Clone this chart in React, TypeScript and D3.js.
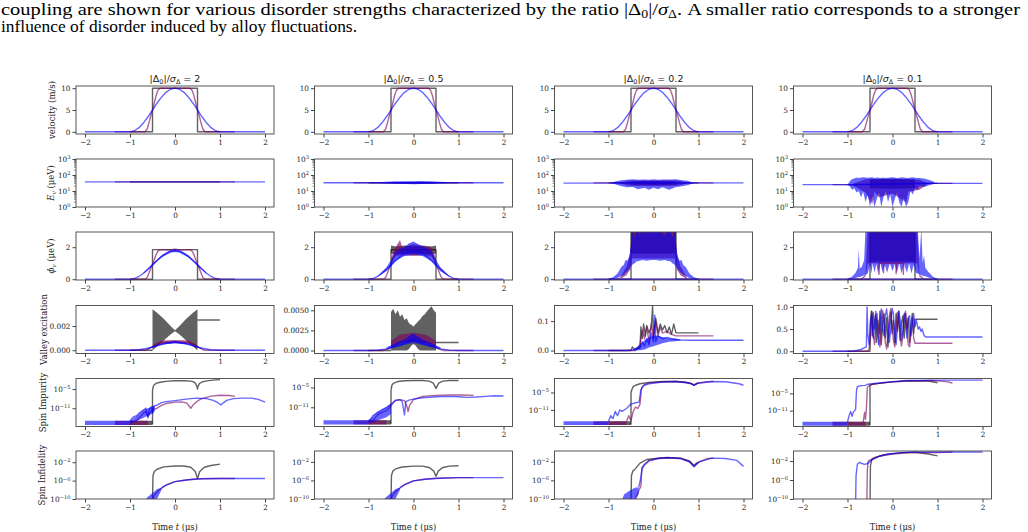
import * as d3 from "d3"
import { useEffect, useRef } from "react"

type Pt = [number, number]
type Bd = [number, number, number] // t, low, high
type Trace = { c: "g" | "p" | "b"; line?: Pt[]; band?: Bd[] }

const W = 1028
const H = 532

const ratios = ["2", "0.5", "0.2", "0.1"]
const timeTicks = [-2, -1, 0, 1, 2]

// ---- velocity profile (same in every column)
const velG: Pt[] = [[-1, 0], [-0.5, 0], [-0.5, 10], [0.5, 10], [0.5, 0], [1, 0]]
const velP: Pt[] = [[-1.333, 0], [-0.67, 0], [-0.62, 0.6], [-0.58, 2], [-0.54, 3.6], [-0.5, 5], [-0.46, 6.6], [-0.42, 8.3], [-0.38, 9.5], [-0.33, 10], [0.33, 10], [0.38, 9.5], [0.42, 8.3], [0.46, 6.6], [0.5, 5], [0.54, 3.6], [0.58, 2], [0.62, 0.6], [0.67, 0], [1.333, 0]]
const velB: Pt[] = [[-2, 0], [-1, 0], [-0.9, 0.24], [-0.8, 0.95], [-0.7, 2.06], [-0.6, 3.45], [-0.5, 5], [-0.4, 6.55], [-0.3, 7.94], [-0.2, 9.05], [-0.1, 9.76], [0, 10], [0.1, 9.76], [0.2, 9.05], [0.3, 7.94], [0.4, 6.55], [0.5, 5], [0.6, 3.45], [0.7, 2.06], [0.8, 0.95], [0.9, 0.24], [1, 0], [2, 0]]

// ---- valley splitting E_v (ueV)
const evG1: Pt[] = [[-1, 37], [1, 37]]
const evP1: Pt[] = [[-1.333, 37], [1.333, 37]]
const evB1: Pt[] = [[-2, 37], [2, 37]]
const evG2: Pt[] = [[-1, 33], [1, 33]]
const evG2Band: Bd[] = [[-0.5, 31, 35], [0, 30, 36], [0.5, 31, 35]]
const evP2: Pt[] = [[-1.333, 33], [1.333, 33]]
const evP2Band: Bd[] = [[-0.6, 32, 34], [-0.3, 29, 37], [0, 28, 38], [0.3, 29, 37], [0.6, 32, 34]]
const evB2: Pt[] = [[-2, 33], [2, 33]]
const evB2Band: Bd[] = [[-0.85, 33, 33], [-0.7, 30, 37], [-0.4, 28, 40], [-0.15, 27, 41], [0, 26, 40], [0.15, 27, 42], [0.4, 28, 40], [0.7, 30, 37], [0.85, 33, 33]]
const evG3: Pt[] = [[-1, 32], [1, 32]]
const evG3Band: Bd[] = [[-0.5, 25, 40], [0, 24, 42], [0.5, 25, 40]]
const evP3: Pt[] = [[-1.333, 32], [1.333, 32]]
const evP3Band: Bd[] = [[-0.75, 31, 33], [-0.55, 21, 45], [0, 20, 46], [0.55, 21, 45], [0.75, 31, 33]]
const evB3: Pt[] = [[-2, 31], [2, 32]]
const evB3Band: Bd[] = [[-0.95, 31, 33], [-0.85, 26, 39], [-0.75, 21, 46], [-0.6, 17, 50], [-0.45, 18, 54], [-0.35, 13, 50], [-0.2, 16, 53], [-0.1, 12, 51], [0, 16, 55], [0.1, 13, 50], [0.2, 17, 53], [0.35, 12, 52], [0.5, 18, 54], [0.6, 19, 48], [0.75, 23, 43], [0.9, 31, 33]]
const evG4: Pt[] = [[-1, 25], [-0.5, 25], [0.5, 30], [1, 30]]
const evG4Band: Bd[] = [[-0.5, 15, 55], [0, 14, 56], [0.5, 15, 55]]
const evP4: Pt[] = [[-1.333, 25], [-0.9, 25], [0.8, 30], [1.333, 30]]
const evP4Band: Bd[] = [[-0.9, 24, 27], [-0.6, 8, 55], [-0.45, 1.5, 58], [-0.4, 9, 55], [-0.3, 4, 56], [0, 7, 58], [0.3, 2, 55], [0.35, 9, 54], [0.6, 12, 50], [0.8, 29, 31]]
const evB4: Pt[] = [[-2, 25], [-1, 25], [0.95, 30], [2, 30]]
const evB4Band: Bd[] = [[-1, 25, 25], [-0.95, 20, 40], [-0.9, 12, 55], [-0.85, 15, 60], [-0.8, 8, 70], [-0.75, 10, 65], [-0.7, 4, 70], [-0.65, 9, 72], [-0.6, 2, 70], [-0.55, 6, 68], [-0.5, 1, 70], [-0.45, 5, 72], [-0.4, 1, 65], [-0.35, 3, 70], [-0.3, 8, 68], [-0.25, 1, 66], [-0.2, 4, 70], [-0.15, 10, 65], [-0.1, 2, 68], [-0.05, 6, 70], [0, 1, 72], [0.05, 3, 70], [0.1, 8, 66], [0.15, 2, 68], [0.2, 1, 72], [0.25, 4, 70], [0.3, 1, 68], [0.35, 2, 65], [0.4, 10, 70], [0.45, 6, 72], [0.5, 15, 68], [0.55, 12, 65], [0.6, 20, 66], [0.7, 18, 60], [0.8, 22, 50], [0.9, 26, 40], [0.95, 30, 30]]

// ---- phase rate (ueV)
const phiG1: Pt[] = [[-1, 0], [-0.5, 0], [-0.5, 1.85], [0.5, 1.85], [0.5, 0], [1, 0]]
const phiP1: Pt[] = [[-1.333, 0], [-0.67, 0], [-0.62, 0.11], [-0.58, 0.37], [-0.54, 0.67], [-0.5, 0.93], [-0.46, 1.22], [-0.42, 1.54], [-0.38, 1.76], [-0.33, 1.85], [-0.15, 1.82], [0, 1.88], [0.15, 1.82], [0.33, 1.85], [0.38, 1.76], [0.42, 1.54], [0.46, 1.22], [0.5, 0.93], [0.54, 0.67], [0.58, 0.37], [0.62, 0.11], [0.67, 0], [1.333, 0]]
const phiB1: Pt[] = [[-2, 0], [-1, 0], [-0.9, 0.04], [-0.8, 0.17], [-0.7, 0.37], [-0.6, 0.62], [-0.5, 0.89], [-0.4, 1.17], [-0.3, 1.41], [-0.2, 1.61], [-0.1, 1.74], [0, 1.78], [0.1, 1.74], [0.2, 1.61], [0.3, 1.41], [0.4, 1.17], [0.5, 0.89], [0.6, 0.62], [0.7, 0.37], [0.8, 0.17], [0.9, 0.04], [1, 0], [2, 0]]
const phiB1Band: Bd[] = [[-0.7, 0.34, 0.42], [-0.5, 0.84, 0.96], [-0.3, 1.35, 1.5], [-0.1, 1.66, 1.82], [0, 1.7, 1.86], [0.1, 1.66, 1.82], [0.3, 1.35, 1.5], [0.5, 0.84, 0.96], [0.7, 0.34, 0.42]]
const phiG2: Pt[] = [[-1, 0], [-0.5, 0], [-0.5, 1.85], [0.5, 1.85], [0.5, 0], [1, 0]]
const phiG2Band: Bd[] = [[-0.5, 1.6, 2.1], [-0.4, 1.55, 2.05], [-0.2, 1.6, 2.1], [0, 1.55, 2.05], [0.2, 1.6, 2.1], [0.4, 1.55, 2.05], [0.5, 1.6, 2.1]]
const phiP2Band: Bd[] = [[-0.5, 1.0, 1.3], [-0.4, 1.4, 2.0], [-0.3, 1.5, 2.45], [-0.25, 1.5, 2.0], [0, 1.45, 2.2], [0.25, 1.5, 2.05], [0.4, 1.4, 2.0], [0.5, 1.0, 1.3]]
const phiB2Band: Bd[] = [[-0.8, 0.15, 0.2], [-0.6, 0.5, 0.75], [-0.5, 0.8, 1.2], [-0.4, 1.1, 1.7], [-0.3, 1.3, 1.9], [-0.2, 1.45, 2.0], [-0.1, 1.5, 2.25], [0, 1.55, 2.35], [0.1, 1.5, 2.2], [0.2, 1.45, 2.05], [0.3, 1.3, 1.95], [0.4, 1.1, 1.75], [0.5, 0.8, 1.2], [0.6, 0.5, 0.75], [0.8, 0.15, 0.2]]
const phiG3: Pt[] = [[-1, 0], [-0.5, 0], [-0.5, 3.2], [0.5, 3.2], [0.5, 0], [1, 0]]
const phiG3Band: Bd[] = [[-0.5, 1.6, 3.2], [0.5, 1.6, 3.2]]
const phiP3: Pt[] = [[-1.333, 0], [-0.75, 0], [0.75, 0], [1.333, 0]]
const phiP3Band: Bd[] = [[-0.75, 0, 0.05], [-0.6, 0.25, 0.8], [-0.52, 0.6, 1.6], [-0.48, 1.3, 3.2], [0.48, 1.3, 3.2], [0.52, 0.6, 1.6], [0.6, 0.25, 0.8], [0.75, 0, 0.05]]
const phiB3: Pt[] = [[-2, 0], [-1, 0], [1, 0], [2, 0]]
const phiB3Band: Bd[] = [[-1, 0, 0.03], [-0.9, 0.02, 0.12], [-0.8, 0.08, 0.35], [-0.72, 0.18, 0.75], [-0.66, 0.28, 0.9], [-0.62, 0.38, 1.2], [-0.58, 0.5, 1.15], [-0.54, 0.62, 1.4], [-0.5, 0.8, 2.1], [-0.47, 0.9, 3.2], [-0.42, 1.0, 2.6], [-0.38, 1.1, 3.2], [-0.3, 1.15, 2.8], [-0.25, 1.2, 3.2], [-0.15, 1.15, 3.2], [-0.05, 1.2, 2.9], [0.05, 1.2, 3.2], [0.15, 1.15, 3.2], [0.25, 1.2, 2.7], [0.3, 1.15, 3.2], [0.38, 1.1, 3.2], [0.42, 1.0, 2.6], [0.47, 0.9, 3.2], [0.5, 0.8, 2.1], [0.54, 0.62, 1.4], [0.58, 0.5, 1.15], [0.62, 0.38, 1.2], [0.66, 0.28, 0.9], [0.72, 0.18, 0.75], [0.8, 0.08, 0.35], [0.9, 0.02, 0.12], [1, 0, 0.03]]
const phiG4: Pt[] = [[-1, 0], [-0.5, 0], [-0.5, 3.2], [0.5, 3.2], [0.5, 0], [1, 0]]
const phiG4Band: Bd[] = [[-0.5, 1.1, 3.2], [0.5, 1.1, 3.2]]
const phiP4: Pt[] = [[-1.333, 0], [-0.7, 0], [0.7, 0], [1.333, 0]]
const phiP4Band: Bd[] = [[-0.7, 0, 0.05], [-0.6, 0.15, 0.3], [-0.55, 1.0, 3.2], [0.55, 1.0, 3.2], [0.6, 0.15, 0.3], [0.7, 0, 0.05]]
const phiP4Spikes: Pt[] = [[-0.3, 1.0], [-0.3, 0.3], [-0.29, 1.0], [-0.2, 1.0], [-0.2, 0.4], [-0.19, 1.0], [0.08, 1.0], [0.08, 0.35], [0.09, 1.0], [0.24, 1.0], [0.24, 0.3], [0.25, 1.0]]
const phiB4: Pt[] = [[-2, 0], [-1, 0], [1, 0], [2, 0]]
const phiB4Band: Bd[] = [[-1, 0, 0.03], [-0.9, 0.03, 0.15], [-0.82, 0.08, 0.4], [-0.77, 0.12, 0.7], [-0.75, 0.13, 1.9], [-0.73, 0.14, 0.65], [-0.68, 0.18, 0.8], [-0.63, 0.24, 1.2], [-0.6, 0.28, 3.2], [-0.55, 0.35, 3.2], [-0.5, 0.9, 3.2], [-0.47, 0.35, 3.2], [-0.44, 1.0, 3.2], [-0.4, 0.4, 3.2], [-0.36, 0.95, 3.2], [-0.32, 0.35, 3.2], [-0.27, 1.0, 3.2], [-0.22, 0.45, 3.2], [-0.17, 0.9, 3.2], [-0.12, 0.4, 3.2], [-0.06, 1.0, 3.2], [0, 0.5, 3.2], [0.05, 0.95, 3.2], [0.1, 0.4, 3.2], [0.15, 1.0, 3.2], [0.2, 0.35, 3.2], [0.26, 0.95, 3.2], [0.32, 0.4, 3.2], [0.37, 1.0, 3.2], [0.42, 0.35, 3.2], [0.47, 0.9, 3.2], [0.52, 0.4, 3.2], [0.56, 0.35, 3.2], [0.6, 0.3, 1.3], [0.64, 0.25, 3.2], [0.67, 0.22, 1.0], [0.7, 0.2, 1.5], [0.73, 0.18, 0.7], [0.8, 0.1, 0.45], [0.9, 0.04, 0.15], [1, 0, 0.03]]

// ---- valley excitation
const vexG1a: Pt[] = [[-1, 0], [-0.5, 0]]
const vexG1b: Pt[] = [[0.5, 0.0025], [1, 0.0025]]
const vexG1Band: Bd[] = [[-0.5, 0, 0.0034], [-0.4, 0.0003, 0.0031], [-0.25, 0.0008, 0.0026], [-0.1, 0.0013, 0.002], [0, 0.00158, 0.00166], [0.1, 0.0013, 0.002], [0.25, 0.0008, 0.0026], [0.4, 0.0003, 0.0031], [0.5, 0, 0.0034]]
const vexP1: Pt[] = [[-1.333, 0], [-0.67, 0], [-0.6, 0.00008], [-0.5, 0.0003], [-0.4, 0.00052], [-0.3, 0.00062], [-0.15, 0.00068], [0, 0.0007], [0.15, 0.00068], [0.3, 0.00062], [0.4, 0.00052], [0.5, 0.0003], [0.6, 0.00008], [0.67, 0], [1.333, 0]]
const vexP1Band: Bd[] = [[-0.5, 0.00022, 0.0004], [-0.3, 0.00052, 0.0008], [0, 0.0006, 0.00085], [0.3, 0.00052, 0.0008], [0.5, 0.00022, 0.0004]]
const vexB1: Pt[] = [[-2, 0], [-1, 0], [-0.8, 0.00004], [-0.6, 0.00016], [-0.4, 0.00037], [-0.2, 0.00058], [0, 0.00066], [0.2, 0.00058], [0.4, 0.00037], [0.6, 0.00016], [0.8, 0.00004], [1, 0], [2, 0]]
const vexB1Band: Bd[] = [[-0.6, 0.00013, 0.0002], [-0.3, 0.00045, 0.00056], [0, 0.00058, 0.00074], [0.3, 0.00045, 0.00056], [0.6, 0.00013, 0.0002]]
const vexG2a: Pt[] = [[-1, 0], [-0.5, 0]]
const vexG2b: Pt[] = [[0.5, 0.001], [1, 0.001]]
const vexG2Band: Bd[] = [[-0.5, 0, 0.0048], [-0.45, 0, 0.0052], [-0.4, 0, 0.0045], [-0.35, 0, 0.005], [-0.3, 0, 0.0042], [-0.25, 0, 0.0045], [-0.2, 0, 0.0038], [-0.15, 0, 0.004], [-0.1, 0.0002, 0.0034], [-0.05, 0.0006, 0.0032], [0, 0.0008, 0.003], [0.05, 0.0006, 0.0033], [0.1, 0.0002, 0.0036], [0.15, 0, 0.0039], [0.2, 0, 0.0043], [0.25, 0, 0.0045], [0.3, 0, 0.0049], [0.35, 0, 0.0052], [0.4, 0, 0.0055], [0.45, 0, 0.005], [0.5, 0, 0.0047]]
const vexP2: Pt[] = [[-1.333, 0], [-0.67, 0], [-0.55, 0.0002], [-0.45, 0.0006], [-0.3, 0.001], [-0.15, 0.0012], [0, 0.00125], [0.15, 0.0012], [0.3, 0.001], [0.45, 0.0006], [0.55, 0.0002], [0.67, 0], [1.333, 0]]
const vexP2Band: Bd[] = [[-0.5, 0.0005, 0.0012], [-0.3, 0.0009, 0.002], [-0.15, 0.001, 0.0021], [0, 0.0011, 0.0022], [0.15, 0.001, 0.0021], [0.3, 0.0009, 0.0019], [0.5, 0.0005, 0.0012]]
const vexB2: Pt[] = [[-2, 0], [-1, 0], [-0.8, 0.00005], [-0.6, 0.0002], [-0.4, 0.0005], [-0.2, 0.0009], [0, 0.0014], [0.2, 0.0009], [0.4, 0.0005], [0.6, 0.0002], [0.8, 0.00005], [1, 0], [2, 0]]
const vexB2Band: Bd[] = [[-0.6, 0.0002, 0.0004], [-0.4, 0.0004, 0.0009], [-0.2, 0.0007, 0.0014], [-0.05, 0.0009, 0.002], [0, 0.0009, 0.0021], [0.05, 0.0009, 0.0019], [0.2, 0.0007, 0.0014], [0.4, 0.0004, 0.0009], [0.6, 0.0002, 0.0004]]
const vexG3: Pt[] = [[-1, 0], [-0.5, 0], [-0.47, 0.012], [-0.43, 0.005], [-0.3, 0.01], [-0.28, 0.08], [-0.25, 0.04], [-0.22, 0.09], [-0.18, 0.05], [-0.15, 0.085], [-0.1, 0.06], [-0.05, 0.08], [-0.02, 0.15], [0, 0.05], [0.05, 0.11], [0.1, 0.06], [0.15, 0.09], [0.2, 0.07], [0.25, 0.085], [0.3, 0.06], [0.35, 0.08], [0.4, 0.055], [0.45, 0.09], [0.5, 0.06], [1, 0.06]]
const vexP3: Pt[] = [[-1.333, 0], [-0.4, 0], [-0.3, 0.02], [-0.25, 0.07], [-0.2, 0.04], [-0.15, 0.08], [-0.1, 0.03], [-0.05, 0.09], [0, 0.04], [0.05, 0.1], [0.1, 0.05], [0.15, 0.08], [0.2, 0.06], [0.3, 0.065], [0.4, 0.055], [0.5, 0.05], [1.333, 0.05]]
const vexB3: Pt[] = [[-2, 0], [-0.6, 0], [-0.4, 0.003], [-0.3, 0.01], [-0.25, 0.03], [-0.2, 0.015], [-0.15, 0.04], [-0.1, 0.02], [-0.05, 0.06], [0, 0.03], [0.03, 0.12], [0.05, 0.03], [0.1, 0.05], [0.2, 0.04], [0.3, 0.045], [0.4, 0.04], [0.6, 0.036], [0.8, 0.035], [2, 0.035]]
const vexB3Band: Bd[] = [[-0.45, 0, 0.004], [-0.3, 0.001, 0.02], [-0.2, 0.004, 0.035], [-0.1, 0.01, 0.045], [0, 0.015, 0.05], [0.1, 0.02, 0.05], [0.2, 0.025, 0.045], [0.35, 0.03, 0.042], [0.5, 0.032, 0.04], [0.6, 0.034, 0.037]]
const vexG4: Pt[] = [[-1, 0], [-0.5, 0], [-0.49, 0.6], [-0.47, 0.9], [-0.45, 0.35], [-0.43, 0.88], [-0.41, 0.5], [-0.38, 0.82], [-0.36, 0.2], [-0.33, 0.7], [-0.3, 0.4], [-0.28, 0.9], [-0.25, 0.15], [-0.22, 0.6], [-0.19, 0.85], [-0.16, 0.3], [-0.13, 0.75], [-0.1, 0.1], [-0.07, 0.55], [-0.04, 0.88], [-0.01, 0.4], [0.02, 0.7], [0.05, 0.2], [0.08, 0.85], [0.11, 0.45], [0.14, 0.9], [0.17, 0.25], [0.2, 0.65], [0.23, 0.8], [0.26, 0.3], [0.29, 0.85], [0.32, 0.5], [0.35, 0.75], [0.38, 0.2], [0.41, 0.6], [0.44, 0.85], [0.47, 0.4], [0.5, 0.72], [1, 0.72]]
const vexP4: Pt[] = [[-1.333, 0], [-0.55, 0], [-0.52, 0.05], [-0.49, 0.3], [-0.46, 0.9], [-0.43, 0.4], [-0.4, 0.15], [-0.37, 0.6], [-0.34, 0.85], [-0.31, 0.3], [-0.28, 0.1], [-0.25, 0.5], [-0.22, 0.92], [-0.19, 0.65], [-0.16, 0.2], [-0.13, 0.05], [-0.1, 0.4], [-0.07, 0.8], [-0.04, 0.95], [-0.01, 0.6], [0.02, 0.25], [0.05, 0.1], [0.08, 0.45], [0.11, 0.88], [0.14, 0.7], [0.17, 0.3], [0.2, 0.12], [0.23, 0.35], [0.26, 0.8], [0.29, 0.9], [0.32, 0.5], [0.35, 0.15], [0.38, 0.1], [0.41, 0.4], [0.44, 0.75], [0.47, 0.3], [0.5, 0.18], [1.333, 0.18]]
const vexB4: Pt[] = [[-2, 0], [-1, 0], [-0.85, 0.01], [-0.7, 0.04], [-0.62, 0.08], [-0.58, 0.1], [-0.565, 1.0], [-0.55, 0.4], [-0.52, 0.15], [-0.49, 0.7], [-0.46, 0.85], [-0.43, 0.3], [-0.4, 0.55], [-0.37, 0.9], [-0.34, 0.45], [-0.31, 0.15], [-0.28, 0.6], [-0.25, 0.95], [-0.22, 0.5], [-0.19, 0.35], [-0.16, 0.8], [-0.13, 0.95], [-0.1, 0.6], [-0.07, 0.2], [-0.04, 0.5], [-0.01, 0.97], [0.02, 0.85], [0.05, 0.4], [0.08, 0.15], [0.11, 0.55], [0.14, 0.9], [0.17, 0.7], [0.2, 0.25], [0.23, 0.45], [0.26, 0.85], [0.29, 0.6], [0.32, 0.3], [0.35, 0.75], [0.38, 0.8], [0.41, 0.35], [0.44, 0.6], [0.47, 0.85], [0.5, 0.55], [0.53, 0.7], [0.57, 0.5], [0.6, 0.55], [0.63, 0.45], [0.66, 0.5], [0.7, 0.35], [0.75, 0.32], [2, 0.32]]

// ---- spin impurity (log)
const floorG: Bd[] = [[-1, 6e-17, 1.3e-15], [-0.5, 6e-17, 1.3e-15]]
const floorP: Bd[] = [[-1.333, 6e-17, 1.3e-15], [-0.6, 6e-17, 1.3e-15]]
const floorB: Bd[] = [[-2, 6e-17, 1.3e-15], [-1, 6e-17, 1.3e-15]]
const impG1: Pt[] = [[-0.5, 1e-16], [-0.5, 3e-6], [-0.48, 1e-4], [-0.45, 3e-4], [-0.4, 8e-4], [-0.3, 1.6e-3], [-0.15, 3e-3], [0, 4e-3], [0.2, 4e-3], [0.35, 3e-3], [0.42, 1.6e-3], [0.46, 5e-4], [0.49, 5e-5], [0.5, 1e-5], [0.51, 5e-5], [0.54, 5e-4], [0.6, 1.6e-3], [0.7, 3.5e-3], [0.85, 6e-3], [1, 9e-3]]
const impP1: Pt[] = [[-0.9, 3e-16], [-0.8, 1e-14], [-0.7, 3e-13], [-0.65, 1e-12], [-0.6, 3e-14], [-0.55, 5e-13], [-0.5, 3e-12], [-0.4, 1e-11], [-0.3, 8e-11], [-0.2, 3e-10], [0, 8e-10], [0.15, 1e-9], [0.25, 5e-10], [0.3, 1e-10], [0.35, 1e-11], [0.4, 1e-10], [0.5, 2e-9], [0.6, 1e-8], [0.8, 6e-8], [1.0, 1.2e-7], [1.2, 1e-7], [1.333, 5e-8]]
const impB1: Pt[] = [[-1, 1e-15], [-0.95, 1e-14], [-0.9, 3e-14], [-0.85, 5e-14], [-0.8, 3e-13], [-0.75, 1e-12], [-0.7, 3e-12], [-0.65, 1e-11], [-0.6, 1e-14], [-0.57, 5e-12], [-0.52, 3e-11], [-0.5, 3e-13], [-0.47, 5e-11], [-0.4, 1e-10], [-0.3, 6e-10], [-0.2, 1.2e-9], [0, 2.5e-9], [0.2, 6e-9], [0.35, 1e-8], [0.5, 1.5e-8], [0.7, 1e-8], [0.85, 3e-9], [0.95, 6e-10], [1.02, 1e-10], [1.08, 6e-10], [1.15, 3e-9], [1.3, 1e-8], [1.5, 1.5e-8], [1.7, 1.5e-8], [1.85, 6e-9], [2, 8e-10]]
const impB1Band: Bd[] = [[-1, 1e-16, 1e-15], [-0.85, 1e-15, 5e-14], [-0.7, 1e-14, 3e-12], [-0.55, 1e-13, 2e-11], [-0.45, 1e-12, 6e-11]]
const impG2: Pt[] = [[-0.5, 1e-16], [-0.5, 1e-6], [-0.48, 5e-5], [-0.45, 1.6e-4], [-0.35, 6e-4], [-0.2, 1e-3], [0, 1.2e-3], [0.2, 1.2e-3], [0.35, 8e-4], [0.44, 2e-4], [0.5, 5e-6], [0.56, 2e-4], [0.65, 8e-4], [0.8, 1.2e-3], [1, 1.3e-3]]
const impP2: Pt[] = [[-0.9, 1e-15], [-0.8, 5e-14], [-0.7, 3e-13], [-0.6, 1e-12], [-0.5, 3e-11], [-0.4, 1.5e-9], [-0.3, 2e-9], [-0.2, 1e-9], [-0.15, 3e-11], [-0.12, 5e-13], [-0.09, 3e-11], [0, 2e-9], [0.2, 2e-8], [0.5, 4e-8], [0.8, 5e-8], [1.1, 5e-8], [1.333, 4e-8]]
const impB2: Pt[] = [[-1, 1e-15], [-0.95, 3e-15], [-0.9, 3e-14], [-0.8, 3e-13], [-0.7, 2e-12], [-0.6, 1e-11], [-0.5, 1e-10], [-0.4, 1e-9], [-0.3, 2e-9], [-0.25, 5e-10], [-0.2, 5e-14], [-0.17, 5e-10], [-0.1, 1.5e-9], [0, 3e-9], [0.2, 8e-9], [0.5, 1.5e-8], [0.8, 2e-8], [1.0, 1.5e-8], [1.2, 1e-8], [1.4, 1.3e-8], [1.6, 2e-8], [1.8, 3e-8], [2, 2.5e-8]]
const impB2Band: Bd[] = [[-1, 1e-16, 1e-15], [-0.8, 1e-15, 3e-13], [-0.6, 1e-14, 1e-11], [-0.5, 1e-13, 1e-10]]
const impG3: Pt[] = [[-0.5, 1e-16], [-0.5, 1e-5], [-0.48, 1e-4], [-0.45, 1e-3], [-0.4, 3e-3], [-0.3, 1e-2], [-0.1, 3e-2], [0.2, 6e-2], [0.5, 6e-2], [0.7, 4e-2], [0.85, 1e-2], [0.9, 3e-3], [0.95, 1e-2], [1, 2e-2]]
const impP3: Pt[] = [[-0.6, 1e-15], [-0.55, 1e-13], [-0.5, 2e-15], [-0.45, 3e-12], [-0.4, 1e-10], [-0.35, 3e-11], [-0.3, 1e-9], [-0.27, 1e-4], [-0.25, 1e-3], [-0.2, 6e-3], [-0.1, 2e-2], [0.2, 5e-2], [0.5, 6e-2], [0.8, 2e-2], [0.9, 5e-3], [1, 2e-2], [1.2, 5e-2], [1.333, 6e-2]]
const impB3: Pt[] = [[-1, 1e-15], [-0.95, 1e-13], [-0.9, 1e-14], [-0.85, 3e-12], [-0.8, 1e-13], [-0.75, 1e-11], [-0.7, 3e-12], [-0.6, 3e-11], [-0.5, 1e-9], [-0.4, 3e-9], [-0.32, 5e-9], [-0.28, 1e-4], [-0.25, 5e-4], [-0.2, 3e-3], [-0.1, 1e-2], [0.2, 4e-2], [0.5, 6e-2], [0.8, 1.5e-2], [0.9, 3e-3], [1, 1.5e-2], [1.3, 6e-2], [1.6, 5e-2], [1.9, 1e-2], [2, 3e-3]]
const impG4: Pt[] = [[-0.5, 1e-16], [-0.5, 5e-3], [-0.45, 1.5e-2], [-0.3, 3e-2], [0, 1e-1], [0.4, 2.5e-1], [0.8, 2e-1], [1, 5e-2]]
const impP4: Pt[] = [[-0.65, 1e-15], [-0.62, 3e-12], [-0.6, 1e-14], [-0.58, 3e-11], [-0.56, 1e-3], [-0.5, 1e-2], [-0.3, 3e-2], [0, 1e-1], [0.5, 2.5e-1], [0.9, 3e-1], [1.2, 1.2e-1], [1.333, 4e-2]]
const impB4: Pt[] = [[-1, 1e-15], [-0.97, 1e-13], [-0.93, 5e-12], [-0.9, 1e-13], [-0.87, 3e-12], [-0.84, 1e-11], [-0.82, 3e-11], [-0.8, 1e-4], [-0.78, 2e-3], [-0.7, 5e-3], [-0.6, 6e-3], [-0.55, 1.5e-2], [-0.4, 3e-2], [-0.2, 6e-2], [0, 1.2e-1], [0.3, 3e-1], [0.6, 3e-1], [1, 4e-1], [1.5, 4e-1], [2, 4e-1]]

// ---- spin infidelity (log)
const infG1: Pt[] = [[-0.5, 1e-11], [-0.49, 1e-5], [-0.46, 1e-4], [-0.4, 3e-4], [-0.25, 1e-3], [0, 1.5e-3], [0.2, 1.5e-3], [0.35, 8e-4], [0.45, 1e-4], [0.5, 3e-6], [0.55, 1e-4], [0.65, 8e-4], [0.8, 2e-3], [1, 4e-3]]
const infP1: Pt[] = [[-0.55, 1e-11], [-0.45, 1e-9], [-0.35, 1e-8], [-0.2, 1e-7], [0, 6e-7], [0.2, 1.2e-6], [0.5, 2.5e-6], [1, 3e-6], [1.333, 3e-6]]
const infB1: Pt[] = [[-0.3, 3e-8], [-0.2, 1e-7], [0, 6e-7], [0.3, 1.5e-6], [0.6, 2.5e-6], [1, 3e-6], [2, 3e-6]]
const infB1Band: Bd[] = [[-0.7, 1e-11, 1e-11], [-0.65, 1e-11, 1e-10], [-0.6, 1e-11, 3e-10], [-0.5, 1e-11, 2e-9], [-0.45, 3e-11, 5e-9], [-0.4, 1e-10, 1.5e-8], [-0.35, 1e-9, 2e-8], [-0.3, 1e-8, 3e-8]]
const infG2: Pt[] = [[-0.5, 1e-11], [-0.49, 1e-5], [-0.46, 1e-4], [-0.4, 3e-4], [-0.25, 8e-4], [0, 1.2e-3], [0.2, 1.2e-3], [0.35, 6e-4], [0.45, 1e-4], [0.5, 8e-6], [0.55, 1e-4], [0.65, 6e-4], [0.8, 1.2e-3], [1, 1.5e-3]]
const infP2: Pt[] = [[-0.55, 1e-11], [-0.45, 1e-9], [-0.35, 1e-8], [-0.2, 1.2e-7], [0, 8e-7], [0.2, 1.6e-6], [0.5, 3e-6], [1, 4e-6], [1.333, 4e-6]]
const infB2: Pt[] = [[-0.3, 3e-8], [-0.2, 1.2e-7], [0, 8e-7], [0.3, 2e-6], [0.6, 3e-6], [1, 4e-6], [2, 4e-6]]
const infB2Band: Bd[] = [[-0.7, 1e-11, 1e-11], [-0.65, 1e-11, 1e-10], [-0.6, 1e-11, 3e-10], [-0.5, 1e-11, 2e-9], [-0.45, 3e-11, 5e-9], [-0.4, 1e-10, 1.5e-8], [-0.35, 1e-9, 2e-8], [-0.3, 1e-8, 3e-8]]
const infG3: Pt[] = [[-0.5, 1e-11], [-0.49, 1e-5], [-0.46, 1e-4], [-0.42, 2e-4], [-0.3, 5e-3], [-0.15, 3e-2], [0.1, 6e-2], [0.3, 8e-2], [0.6, 6e-2], [0.8, 1.5e-2], [0.9, 1.5e-3], [0.95, 5e-3], [1, 6e-3]]
const infP3: Pt[] = [[-0.45, 1e-11], [-0.38, 3e-10], [-0.32, 1e-8], [-0.28, 5e-8], [-0.26, 5e-4], [-0.2, 3e-3], [-0.1, 2e-2], [0.1, 5e-2], [0.3, 7e-2], [0.6, 5e-2], [0.8, 1e-2], [0.9, 1e-3], [1, 8e-3], [1.2, 5e-2], [1.333, 6e-2]]
const infB3: Pt[] = [[-0.33, 3e-8], [-0.3, 5e-7], [-0.25, 3e-4], [-0.2, 2e-3], [-0.1, 1.5e-2], [0.1, 5e-2], [0.3, 7e-2], [0.6, 5e-2], [0.8, 1e-2], [0.9, 8e-4], [1, 8e-3], [1.3, 6e-2], [1.6, 5e-2], [1.85, 2e-2], [2, 1e-3]]
const infB3Band: Bd[] = [[-0.74, 1e-11, 1e-11], [-0.65, 1e-11, 1e-9], [-0.5, 1e-11, 1e-8], [-0.4, 1e-10, 3e-8], [-0.33, 1e-9, 3e-8]]
const infG4: Pt[] = [[-0.5, 1e-11], [-0.49, 1e-3], [-0.46, 2e-2], [-0.4, 5e-2], [-0.2, 2e-1], [0.2, 6e-1], [0.5, 7e-1], [0.8, 3e-1], [1, 1.2e-1]]
const infP4: Pt[] = [[-0.57, 1e-11], [-0.56, 1e-4], [-0.54, 1e-2], [-0.45, 3e-2], [-0.3, 1e-1], [0, 3e-1], [0.4, 6e-1], [1, 6e-1], [1.333, 8e-1]]
const infB4: Pt[] = [[-0.82, 1e-11], [-0.81, 1e-5], [-0.78, 2e-3], [-0.74, 5e-3], [-0.68, 3e-3], [-0.62, 2e-3], [-0.55, 3e-3], [-0.45, 2e-2], [-0.3, 1e-1], [-0.1, 3e-1], [0.2, 6e-1], [0.5, 8e-1], [1, 8e-1], [2, 8e-1]]

// ---- axes
const xDomain: Pt = [-2.2, 2.2]
const velTicks = [0, 5, 10]
const evTicks = [1, 10, 100, 1000]
const evMinor = [2, 3, 4, 5, 6, 7, 8, 9, 20, 30, 40, 50, 60, 70, 80, 90, 200, 300, 400, 500, 600, 700, 800, 900]
const phiTicks = [0, 2]
const vexTicks = [[0, 0.002], [0, 0.0025, 0.005], [0, 0.1], [0, 0.5, 1]]
const vexTickLabels = [["0.000", "0.002"], ["0.0000", "0.0025", "0.0050"], ["0.0", "0.1"], ["0.0", "0.5", "1.0"]]
const impTicks = [1e-5, 1e-11]
const infTicks = [1e-2, 1e-6, 1e-10]
const velDomain = [-0.5, 10.5]
const evDomain = [1, 1000]
const phiDomain = [-0.05, 2.95]
const vexDomains = [[-0.00027, 0.0037], [-0.00037, 0.0056], [-0.01, 0.153], [-0.05, 1.03]]
const impDomains = [[2e-17, 2e-2], [1.6e-17, 5e-3], [2e-17, 0.63], [3e-17, 1.5]]
const infDomains = [[1e-10, 2.8], [1e-10, 2.2], [1e-10, 2], [1e-10, 1.3]]

const colLeft = [76, 314.5, 554.5, 793.5]
const panelW = 198
const rowTop = [86, 159, 232, 305.5, 378.5, 451]
const panelH = 48
const ylabelOffset = [24, 25, 25, 32, 33, 34]

const colors = { g: "rgba(0,0,0,0.62)", p: "rgba(125,0,95,0.62)", b: "rgba(0,0,255,0.6)" }

const tr = (c: Trace["c"], line?: Pt[], band?: Bd[]): Trace => ({ c, line, band })
const velSet = [tr("g", velG), tr("p", velP), tr("b", velB)]

const panelTraces: Trace[][][] = [
  [velSet, velSet, velSet, velSet],
  [
    [tr("g", evG1), tr("p", evP1), tr("b", evB1)],
    [tr("g", evG2, evG2Band), tr("p", evP2, evP2Band), tr("b", evB2, evB2Band)],
    [tr("g", evG3, evG3Band), tr("p", evP3, evP3Band), tr("b", evB3, evB3Band)],
    [tr("g", evG4, evG4Band), tr("p", evP4, evP4Band), tr("b", evB4, evB4Band)],
  ],
  [
    [tr("g", phiG1), tr("p", phiP1), tr("b", phiB1, phiB1Band)],
    [tr("g", phiG2, phiG2Band), tr("p", phiP1, phiP2Band), tr("b", phiB1, phiB2Band)],
    [tr("g", phiG3, phiG3Band), tr("p", phiP3, phiP3Band), tr("b", phiB3, phiB3Band)],
    [tr("g", phiG4, phiG4Band), tr("p", phiP4, phiP4Band), tr("b", phiB4, phiB4Band), tr("p", phiP4Spikes)],
  ],
  [
    [tr("g", vexG1a), tr("g", vexG1b, vexG1Band), tr("p", vexP1, vexP1Band), tr("b", vexB1, vexB1Band)],
    [tr("g", vexG2a), tr("g", vexG2b, vexG2Band), tr("p", vexP2, vexP2Band), tr("b", vexB2, vexB2Band)],
    [tr("g", vexG3), tr("p", vexP3), tr("b", vexB3, vexB3Band)],
    [tr("g", vexG4), tr("p", vexP4), tr("b", vexB4)],
  ],
  [
    [tr("g", impG1, floorG), tr("p", impP1, floorP), tr("b", impB1, floorB), tr("b", undefined, impB1Band)],
    [tr("g", impG2, floorG), tr("p", impP2, floorP), tr("b", impB2, floorB), tr("b", undefined, impB2Band)],
    [tr("g", impG3, floorG), tr("p", impP3, floorP), tr("b", impB3, floorB)],
    [tr("g", impG4, floorG), tr("p", impP4, floorP), tr("b", impB4, floorB)],
  ],
  [
    [tr("g", infG1), tr("p", infP1), tr("b", infB1, infB1Band)],
    [tr("g", infG2), tr("p", infP2), tr("b", infB2, infB2Band)],
    [tr("g", infG3), tr("p", infP3), tr("b", infB3, infB3Band)],
    [tr("g", infG4), tr("p", infP4), tr("b", infB4)],
  ],
]

const serif = "DejaVu Serif"
const sans = "DejaVu Sans"
const ink = "#222"
const spine = "#444"

const supExp = (d: number) => String(Math.round(Math.log10(d))).replace("-", "\u2212")

export default function App() {
  const svgRef = useRef<SVGSVGElement>(null)

  useEffect(() => {
    if (!svgRef.current) return
    const svg = d3.select(svgRef.current)
    svg.selectAll("*").remove()
    const defs = svg.append("defs")

    // Caption lines above the figure
    const cap1 = svg.append("text")
      .attr("x", 1).attr("y", 14.5)
      .attr("font-family", "Liberation Serif").attr("font-size", 17).attr("fill", "#000")
      .attr("textLength", 1019).attr("lengthAdjust", "spacingAndGlyphs")
    cap1.append("tspan").text("coupling are shown for various disorder strengths characterized by the ratio |Δ")
    cap1.append("tspan").attr("dy", 3).attr("font-size", 11.5).text("0")
    cap1.append("tspan").attr("dy", -3).text("|/")
    cap1.append("tspan").attr("font-style", "italic").text("σ")
    cap1.append("tspan").attr("dy", 3).attr("font-size", 11.5).text("Δ")
    cap1.append("tspan").attr("dy", -3).text(". A smaller ratio corresponds to a stronger")
    svg.append("text")
      .attr("x", 1).attr("y", 31.5)
      .attr("font-family", "Liberation Serif").attr("font-size", 17).attr("fill", "#000")
      .attr("textLength", 356).attr("lengthAdjust", "spacingAndGlyphs")
      .text("influence of disorder induced by alloy fluctuations.")

    const line = (x: d3.ScaleLinear<number, number>, y: any) =>
      d3.line<Pt>().x((d) => x(d[0])).y((d) => y(d[1]))
    const area = (x: d3.ScaleLinear<number, number>, y: any) =>
      d3.area<Bd>().x((d) => x(d[0])).y0((d) => y(d[1])).y1((d) => y(d[2]))

    panelTraces.forEach((row, r) => {
      row.forEach((set, c) => {
        const left = colLeft[c]
        const top = rowTop[r]
        const x = d3.scaleLinear().domain(xDomain).range([left, left + panelW])
        const isLog = r === 1 || r === 4 || r === 5
        let dom: number[]
        let ticks: number[]
        if (r === 0) { dom = velDomain; ticks = velTicks }
        else if (r === 1) { dom = evDomain; ticks = evTicks }
        else if (r === 2) { dom = phiDomain; ticks = phiTicks }
        else if (r === 3) { dom = vexDomains[c]; ticks = vexTicks[c] }
        else if (r === 4) { dom = impDomains[c]; ticks = impTicks }
        else { dom = infDomains[c]; ticks = infTicks }
        const y: any = isLog
          ? d3.scaleLog().domain(dom).range([top + panelH, top])
          : d3.scaleLinear().domain(dom).range([top + panelH, top])

        const clipId = `clip-${r}-${c}`
        defs.append("clipPath").attr("id", clipId)
          .append("rect").attr("x", left).attr("y", top).attr("width", panelW).attr("height", panelH)

        const g = svg.append("g").attr("clip-path", `url(#${clipId})`)
        set.forEach((t) => {
          if (t.band) {
            g.append("path").attr("d", area(x, y)(t.band)).attr("fill", colors[t.c]).attr("stroke", "none")
          }
          if (t.line) {
            g.append("path").attr("d", line(x, y)(t.line))
              .attr("fill", "none").attr("stroke", colors[t.c])
              .attr("stroke-width", 1.4).attr("stroke-linejoin", "round")
          }
        })

        // x axis
        const xa = svg.append("g")
          .attr("transform", `translate(0,${top + panelH})`)
          .call(d3.axisBottom(x).tickValues(timeTicks).tickFormat(d3.format("d")).tickSize(3.5).tickPadding(2).tickSizeOuter(0))
        xa.attr("font-family", serif).attr("font-size", 7.3)
        xa.select(".domain").remove()
        xa.selectAll("line").attr("stroke", spine)
        xa.selectAll("text").attr("fill", ink)

        // y axis
        const axis = d3.axisLeft(y).tickValues(ticks).tickSize(3.5).tickPadding(2).tickSizeOuter(0)
        if (r === 3) axis.tickFormat((_d, i) => vexTickLabels[c][i])
        else if (!isLog) axis.tickFormat(d3.format("d"))
        else axis.tickFormat(() => "")
        const ya = svg.append("g").attr("transform", `translate(${left},0)`).call(axis)
        ya.attr("font-family", serif).attr("font-size", 7.3)
        ya.select(".domain").remove()
        ya.selectAll("line").attr("stroke", spine)
        ya.selectAll("text").attr("fill", ink)
        if (isLog) {
          ya.selectAll<SVGTextElement, number>("text").each(function (d) {
            const t = d3.select(this)
            t.text(null)
            t.append("tspan").text("10")
            t.append("tspan").attr("dy", "-0.55em").attr("font-size", 5.2).text(supExp(d))
          })
        }
        if (r === 1) {
          ya.selectAll(".minor").data(evMinor).enter().append("line")
            .attr("x1", 0).attr("x2", -2)
            .attr("y1", (d) => y(d)).attr("y2", (d) => y(d))
            .attr("stroke", spine).attr("stroke-width", 0.6)
        }

        // frame
        svg.append("rect")
          .attr("x", left).attr("y", top).attr("width", panelW).attr("height", panelH)
          .attr("fill", "none").attr("stroke", spine).attr("stroke-width", 0.9)

        // column title
        if (r === 0) {
          const tt = svg.append("text")
            .attr("x", left + panelW / 2).attr("y", top - 4.5)
            .attr("text-anchor", "middle").attr("font-family", sans).attr("font-size", 9.5).attr("fill", ink)
          tt.append("tspan").text("|Δ")
          tt.append("tspan").attr("dy", 2).attr("font-size", 6.5).text("0")
          tt.append("tspan").attr("dy", -2).text("|/")
          tt.append("tspan").attr("font-style", "italic").text("σ")
          tt.append("tspan").attr("dy", 2).attr("font-size", 6.5).text("Δ")
          tt.append("tspan").attr("dy", -2).text(` = ${ratios[c]}`)
        }

        // x label on bottom row
        if (r === 5) {
          const xl = svg.append("text")
            .attr("x", left + panelW / 2).attr("y", 529.5)
            .attr("text-anchor", "middle").attr("font-family", serif).attr("font-size", 8.3).attr("fill", ink)
          xl.append("tspan").text("Time ")
          xl.append("tspan").attr("font-style", "italic").text("t")
          xl.append("tspan").text(" (μs)")
        }

        // y labels in first column
        if (c === 0) {
          const cx = left - ylabelOffset[r]
          const cy = top + panelH / 2
          const yl = svg.append("text")
            .attr("transform", `translate(${cx},${cy}) rotate(-90)`)
            .attr("text-anchor", "middle").attr("dominant-baseline", "central")
            .attr("font-family", serif).attr("font-size", 8.5).attr("fill", ink)
          if (r === 0) yl.text("velocity (m/s)")
          else if (r === 1) {
            yl.append("tspan").attr("font-style", "italic").text("E")
            yl.append("tspan").attr("font-style", "italic").attr("font-size", 6).attr("dy", 2).text("v")
            yl.append("tspan").attr("dy", -2).text(" (μeV)")
          } else if (r === 2) {
            yl.append("tspan").attr("font-style", "italic").text("ϕ̇")
            yl.append("tspan").attr("font-style", "italic").attr("font-size", 6).attr("dy", 2).text("v")
            yl.append("tspan").attr("dy", -2).text(" (μeV)")
          } else if (r === 3) yl.text("Valley excitation")
          else if (r === 4) yl.text("Spin Impurity")
          else yl.text("Spin Infidelity")
        }
      })
    })
  }, [])

  return (
    <svg
      ref={svgRef}
      width={W}
      height={H}
      style={{ position: "absolute", left: 0, top: 0, background: "#fff" }}
    />
  )
}
